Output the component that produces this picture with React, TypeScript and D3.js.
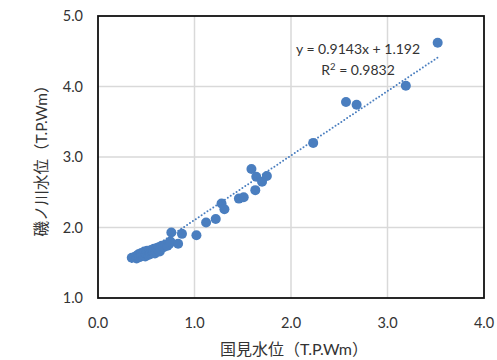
import * as d3 from "d3"

// observed points: 国見水位 (x) vs 磯ノ川水位 (y)
const xValues = [
  0.35, 0.38, 0.40, 0.40, 0.42, 0.43, 0.45, 0.45, 0.47, 0.48, 0.49, 0.50, 0.51, 0.52, 0.53, 0.54,
  0.55, 0.56, 0.57, 0.58, 0.59, 0.60, 0.61, 0.62, 0.63, 0.64, 0.65, 0.66, 0.68, 0.70, 0.72, 0.74,
  0.75, 0.76, 0.83, 0.87, 1.02, 1.12, 1.22, 1.28, 1.31, 1.46, 1.51, 1.59, 1.63, 1.64, 1.70, 1.75,
  2.23, 2.57, 2.68, 3.19, 3.52,
]
const yValues = [
  1.57, 1.58, 1.60, 1.56, 1.62, 1.58, 1.60, 1.64, 1.61, 1.66, 1.59, 1.63, 1.67, 1.61, 1.65, 1.62,
  1.68, 1.64, 1.66, 1.70, 1.63, 1.67, 1.71, 1.68, 1.72, 1.66, 1.70, 1.74, 1.72, 1.76, 1.74, 1.77,
  1.80, 1.93, 1.77, 1.91, 1.89, 2.07, 2.12, 2.34, 2.26, 2.41, 2.43, 2.83, 2.53, 2.72, 2.65, 2.73,
  3.20, 3.78, 3.74, 4.01, 4.62,
]
const xTicks = [0, 1, 2, 3, 4]
const yTicks = [1, 2, 3, 4, 5]
const slope = 0.9143
const intercept = 1.192
const equationText = "y = 0.9143x + 1.192"
const r2Text = "0.9832"
const xTitle = "国見水位（T.P.Wm）"
const yTitle = "磯ノ川水位（T.P.Wm）"

const W = 497
const H = 360
const margin = { left: 98, right: 13, top: 16, bottom: 62 }
const blue = "#4a7ebf"
const textColor = "#333"
const font = "Lato, 'Noto Sans CJK JP', sans-serif"

export default function App() {
  const x = d3.scaleLinear().domain([0, 4]).range([margin.left, W - margin.right])
  const y = d3.scaleLinear().domain([1, 5]).range([H - margin.bottom, margin.top])

  const points = xValues.map((v, i) => [v, yValues[i]] as [number, number])
  const xMin = d3.min(xValues) ?? 0
  const xMax = d3.max(xValues) ?? 4
  const line = d3.line<number>()
    .x(d => x(d))
    .y(d => y(slope * d + intercept))

  return (
    <svg width={W} height={H} style={{ position: "absolute", left: 0, top: 0, fontFamily: font }}>
      <rect width={W} height={H} fill="#fff" />
      {/* grid */}
      {xTicks.slice(1, -1).map(t => (
        <line key={"gx" + t} x1={x(t)} x2={x(t)} y1={y(1)} y2={y(5)} stroke="#d9d9d9" strokeWidth={1.5} />
      ))}
      {yTicks.slice(1, -1).map(t => (
        <line key={"gy" + t} x1={x(0)} x2={x(4)} y1={y(t)} y2={y(t)} stroke="#d9d9d9" strokeWidth={1.5} />
      ))}
      {/* points */}
      {points.map((p, i) => (
        <circle key={i} cx={x(p[0])} cy={y(p[1])} r={5} fill={blue} />
      ))}
      {/* trendline */}
      <path d={line([xMin, xMax]) ?? ""} fill="none" stroke={blue} strokeWidth={2}
        strokeDasharray="0 3.5" strokeLinecap="round" />
      {/* plot border */}
      <rect x={x(0)} y={y(5)} width={x(4) - x(0)} height={y(1) - y(5)} fill="none" stroke="#111" strokeWidth={1.8} />
      {/* ticks */}
      {xTicks.map(t => (
        <text key={"tx" + t} x={x(t)} y={y(1) + 30} textAnchor="middle" fontSize={14.5} fill={textColor}>
          {d3.format(".1f")(t)}
        </text>
      ))}
      {yTicks.map(t => (
        <text key={"ty" + t} x={x(0) - 15} y={y(t)} dy="0.35em" textAnchor="end" fontSize={14.5} fill={textColor}>
          {d3.format(".1f")(t)}
        </text>
      ))}
      {/* equation */}
      <text x={358} y={54} textAnchor="middle" fontSize={14} fill={textColor}>{equationText}</text>
      <text x={358} y={75} textAnchor="middle" fontSize={14} fill={textColor}>
        R<tspan dy={-5} fontSize={9.5}>2</tspan><tspan dy={5}> = {r2Text}</tspan>
      </text>
      {/* axis titles */}
      <text x={294} y={355} textAnchor="middle" fontSize={16} fill={textColor}>{xTitle}</text>
      <text transform={`translate(47, ${(y(1) + y(5)) / 2}) rotate(-90)`} textAnchor="middle" fontSize={15.5} fill={textColor}>
        {yTitle}
      </text>
    </svg>
  )
}
